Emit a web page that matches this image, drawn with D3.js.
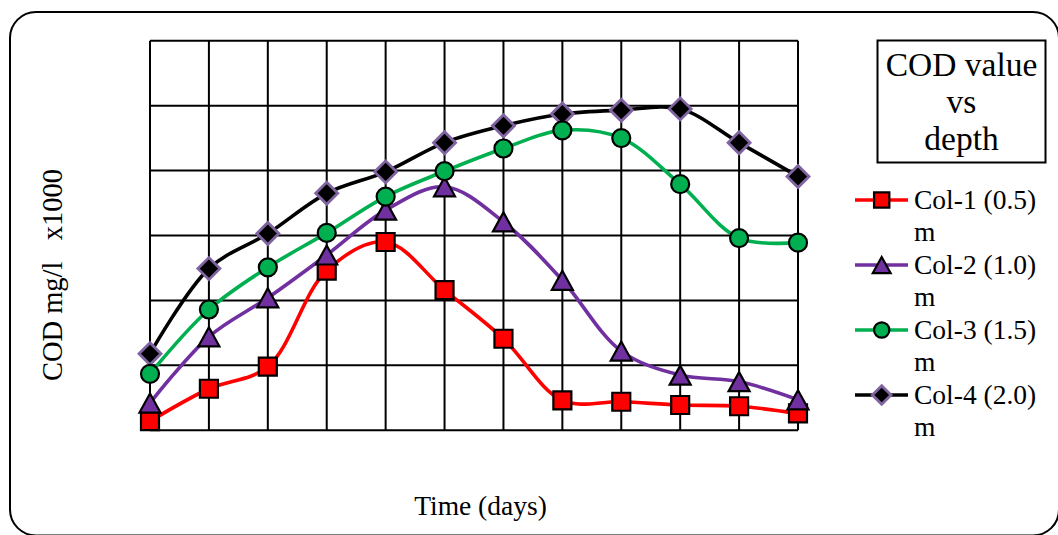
<!DOCTYPE html>
<html>
<head>
<meta charset="utf-8">
<script src="https://cdn.jsdelivr.net/npm/d3@7"></script>
<style>
  html, body { margin: 0; padding: 0; background: #fff; }
  svg { display: block; }
  text { font-family: "Liberation Serif", "Times New Roman", serif; fill: #000; }
</style>
</head>
<body>
<svg id="chart" width="1058" height="535"></svg>
<script>
// ---- Data (grid units, COD mg/l x1000) ----
const days = [1, 2, 3, 4, 5, 6, 7, 8, 9, 10, 11, 12];
const col1 = [0.14, 0.64, 0.98, 2.46, 2.90, 2.16, 1.41, 0.46, 0.44, 0.39, 0.37, 0.26];
const col2 = [0.42, 1.44, 2.04, 2.70, 3.39, 3.75, 3.21, 2.31, 1.22, 0.85, 0.75, 0.47];
const col3 = [0.87, 1.86, 2.51, 3.04, 3.60, 3.99, 4.34, 4.62, 4.50, 3.79, 2.96, 2.89];
const col4 = [1.18, 2.49, 3.03, 3.65, 3.98, 4.43, 4.69, 4.87, 4.93, 4.95, 4.43, 3.91];
const seriesNames = ["Col-1 (0.5)", "Col-2 (1.0)", "Col-3 (1.5)", "Col-4 (2.0)"];
const yTicks = [0, 1, 2, 3, 4, 5, 6];
const titleLines = ["COD value", "vs", "depth"];
const xLabel = "Time (days)";
const yLabel = "COD mg/l   x1000";

(function () {
const svg = d3.select("#chart");

// outer rounded frame (right and bottom edges run off the picture edge)
svg.append("rect")
  .attr("x", 10).attr("y", 12).attr("width", 1049).attr("height", 523.5)
  .attr("rx", 26).attr("ry", 26)
  .attr("fill", "none").attr("stroke", "#000").attr("stroke-width", 2);

const pLeft = 150, pRight = 798, pTop = 40.7, pBottom = 430.3;
const x = d3.scalePoint().domain(days).range([pLeft, pRight]);
const y = d3.scaleLinear().domain([0, 6]).range([pBottom, pTop]);

// grid
const g = svg.append("g");
g.selectAll("line.v").data(days).enter().append("line")
  .attr("x1", d => x(d)).attr("x2", d => x(d))
  .attr("y1", pTop).attr("y2", pBottom)
  .attr("stroke", "#000").attr("stroke-width", 2);
g.selectAll("line.h").data(yTicks).enter().append("line")
  .attr("x1", pLeft).attr("x2", pRight)
  .attr("y1", d => y(d)).attr("y2", d => y(d))
  .attr("stroke", "#000").attr("stroke-width", 2);

const styles = [
  { data: col1, line: "#FF0000", shape: "square", fill: "#FF0000", stroke: "#000" },
  { data: col2, line: "#7030A0", shape: "triangle", fill: "#7030A0", stroke: "#000" },
  { data: col3, line: "#00B050", shape: "circle", fill: "#00B050", stroke: "#000" },
  { data: col4, line: "#000000", shape: "diamond", fill: "#000000", stroke: "#8064A2" }
];

const line = d3.line()
  .x((d, i) => x(days[i]))
  .y(d => y(d))
  .curve(d3.curveCatmullRom.alpha(0.5));

styles.forEach(s => {
  svg.append("path")
    .attr("d", line(s.data))
    .attr("fill", "none")
    .attr("stroke", s.line)
    .attr("stroke-width", 3.6)
    .attr("stroke-linejoin", "round");
});

function markerPath(shape, k) {
  if (shape === "square") { const h = 9 * k; return `M${-h},${-h}H${h}V${h}H${-h}Z`; }
  if (shape === "triangle") { const w = 10.5 * k, h = 9.5 * k; return `M0,${-h}L${w},${h}L${-w},${h}Z`; }
  if (shape === "diamond") { const r = 11 * k; return `M0,${-r}L${r},0L0,${r}L${-r},0Z`; }
  return null;
}

function drawMarker(sel, s, cx, cy, k) {
  if (s.shape === "circle") {
    sel.append("circle").attr("cx", cx).attr("cy", cy).attr("r", 9 * k)
      .attr("fill", s.fill).attr("stroke", s.stroke).attr("stroke-width", 2.2);
  } else {
    sel.append("path").attr("d", markerPath(s.shape, k))
      .attr("transform", `translate(${cx},${cy})`)
      .attr("fill", s.fill).attr("stroke", s.stroke)
      .attr("stroke-width", s.shape === "diamond" ? 2.8 : 2.2)
      .attr("stroke-linejoin", "miter");
  }
}

const markerOrder = [0, 1, 3, 2];
markerOrder.forEach(si => {
  const s = styles[si];
  const mg = svg.append("g");
  s.data.forEach((v, i) => drawMarker(mg, s, x(days[i]), y(v), 1));
});

// title box
svg.append("rect")
  .attr("x", 877.5).attr("y", 40.5).attr("width", 168).attr("height", 122)
  .attr("fill", "#fff").attr("stroke", "#000").attr("stroke-width", 2);
const titleBase = [75.5, 113, 149.5];
titleLines.forEach((t, i) => {
  svg.append("text").attr("x", 961.5).attr("y", titleBase[i])
    .attr("text-anchor", "middle").attr("font-size", 33.5).text(t);
});

// legend
const legY = [200, 265, 330, 395];
styles.forEach((s, i) => {
  const lg = svg.append("g");
  lg.append("line").attr("x1", 855).attr("x2", 908)
    .attr("y1", legY[i]).attr("y2", legY[i])
    .attr("stroke", s.line).attr("stroke-width", 3.6);
  drawMarker(lg, s, 881.7, legY[i], 0.85);
  lg.append("text").attr("x", 914).attr("y", legY[i] + 8.5)
    .attr("font-size", 27.5).text(seriesNames[i]);
  lg.append("text").attr("x", 914).attr("y", legY[i] + 41)
    .attr("font-size", 27.5).text("m");
});

// axis titles
svg.append("text").attr("x", 480.5).attr("y", 515)
  .attr("text-anchor", "middle").attr("font-size", 27.5).text(xLabel);
svg.append("text")
  .attr("transform", "translate(62,275) rotate(-90)")
  .attr("text-anchor", "middle").attr("font-size", 28.5)
  .style("white-space", "pre")
  .text(yLabel);
})();
</script>
</body>
</html>
